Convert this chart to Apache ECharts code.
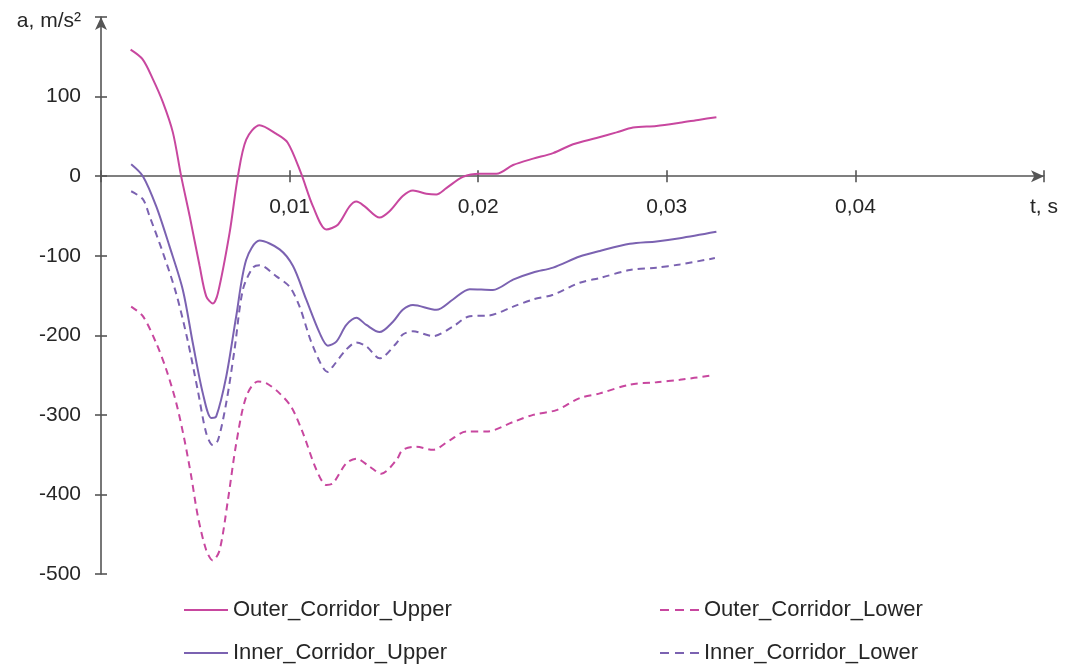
<!DOCTYPE html>
<html>
<head>
<meta charset="utf-8">
<script src="https://cdn.jsdelivr.net/npm/echarts@6/dist/echarts.min.js"></script>
<style>
html,body{margin:0;padding:0;background:#fff;}
#chart{width:1069px;height:671px;}
</style>
</head>
<body>
<div id="chart"></div>
<script>
// ---- data (t in s, a in m/s²) ----
var outerUpperT = [0.00157,0.0022,0.00275,0.00328,0.00381,0.00425,0.0047,0.00523,0.00558,0.00593,0.0062,0.00682,0.00726,0.0077,0.00841,0.0093,0.0099,0.0106,0.01124,0.01195,0.01256,0.01318,0.01354,0.01398,0.01477,0.0153,0.016,0.01654,0.01725,0.01778,0.01831,0.01919,0.02008,0.02097,0.02185,0.02291,0.02397,0.02503,0.02627,0.02733,0.02821,0.02945,0.03069,0.03175,0.03263];
var outerUpperA = [159,147,122,93,55,0,-50,-113,-151,-160,-147,-71,0,46,64,53,42,4,-38,-67,-61,-38,-32,-38,-52,-44,-25,-18,-22,-23,-15,-1,3,3,14,22,29,40,48,55,61,63,67,71,74];

var outerLowerT = [0.0016,0.00222,0.00293,0.00346,0.00399,0.00443,0.00479,0.00514,0.00558,0.00593,0.00629,0.00673,0.00717,0.0077,0.00832,0.00876,0.00947,0.01009,0.01071,0.01142,0.01195,0.0123,0.013,0.01354,0.01424,0.01486,0.01566,0.016,0.01672,0.0176,0.01849,0.01937,0.02044,0.02185,0.02291,0.02415,0.02538,0.02645,0.02804,0.02945,0.03069,0.03246];
var outerLowerA = [-164,-176,-210,-243,-285,-332,-378,-428,-470,-483,-470,-407,-336,-277,-258,-260,-273,-290,-323,-369,-388,-386,-361,-355,-365,-374,-357,-344,-340,-344,-332,-321,-321,-309,-300,-294,-279,-273,-262,-259,-256,-250];

var innerUpperT = [0.0016,0.00222,0.00293,0.00363,0.00434,0.00487,0.0054,0.00585,0.00611,0.00664,0.00717,0.0077,0.00841,0.00947,0.01018,0.01088,0.01159,0.01203,0.01248,0.01301,0.01354,0.01407,0.01477,0.01548,0.016,0.01654,0.01778,0.01866,0.01955,0.02078,0.02185,0.02291,0.02397,0.02538,0.02645,0.02804,0.02945,0.03069,0.03263];
var innerUpperA = [15,0,-38,-88,-143,-210,-273,-304,-302,-252,-176,-105,-81,-92,-113,-155,-197,-213,-208,-187,-178,-187,-196,-183,-168,-162,-168,-155,-142,-143,-130,-121,-115,-101,-94,-85,-82,-78,-70];

var innerLowerT = [0.0016,0.00222,0.00257,0.00328,0.00398,0.00459,0.00513,0.00558,0.00593,0.0062,0.00664,0.00708,0.00752,0.00805,0.00841,0.0093,0.01,0.01053,0.01124,0.01203,0.0123,0.013,0.01354,0.01407,0.01477,0.01566,0.016,0.01654,0.0176,0.01866,0.01955,0.0206,0.02185,0.02291,0.02397,0.02538,0.02645,0.02804,0.02945,0.03069,0.03255];
var innerLowerA = [-19,-29,-50,-96,-147,-206,-269,-323,-338,-332,-285,-218,-143,-115,-112,-126,-139,-164,-214,-246,-239,-218,-209,-214,-229,-210,-199,-195,-201,-189,-176,-175,-164,-155,-149,-134,-128,-118,-115,-111,-103];

var seriesNames = ['Outer_Corridor_Upper','Outer_Corridor_Lower','Inner_Corridor_Upper','Inner_Corridor_Lower'];
var xAxisTitle = 't, s';
var yAxisTitle = 'a, m/s\u00B2';

function pairs(t, a) { return t.map(function (v, i) { return [v, a[i]]; }); }

var MAGENTA = '#C8479F';
var PURPLE = '#7B62B1';
var AXIS = '#555';
var TEXT = '#262626';
var FONT = "'Liberation Sans', Arial, sans-serif";

var X_MIN = 0, X_MAX = 0.05, Y_MIN = -500, Y_MAX = 200;
var GRID = {left: 101, right: 25, top: 17, bottom: 97};
var gridH = 671 - GRID.top - GRID.bottom;
// move the x axis from the grid bottom up to a = 0
var xOffset = -(0 - Y_MIN) / (Y_MAX - Y_MIN) * gridH;

var chart = echarts.init(document.getElementById('chart'), null, {renderer: 'canvas'});

function xAxisBase(inside) {
  return {
    type: 'value', min: X_MIN, max: X_MAX, interval: 0.01,
    position: 'bottom', offset: xOffset,
    axisLine: {show: !inside, onZero: false, symbol: ['none', 'arrow'], symbolSize: [9, 13], lineStyle: {color: AXIS, width: 1.6}},
    axisTick: {show: true, inside: inside, length: 6, lineStyle: {color: AXIS, width: 1.6}},
    axisLabel: inside ? {show: false} : {
      show: true, margin: 21, color: TEXT, fontSize: 21, fontFamily: FONT,
      formatter: function (v) {
        if (Math.abs(v) < 1e-9) return '';
        if (Math.abs(v - 0.05) < 1e-9) return xAxisTitle;
        return v.toFixed(2).replace('.', ',');
      }
    },
    splitLine: {show: false}
  };
}
function yAxisBase(inside) {
  return {
    type: 'value', min: Y_MIN, max: Y_MAX, interval: 100,
    position: 'left', offset: 0,
    axisLine: {show: !inside, onZero: false, symbol: ['none', 'arrow'], symbolSize: [9, 13], lineStyle: {color: AXIS, width: 1.6}},
    axisTick: {show: true, inside: inside, length: 6, lineStyle: {color: AXIS, width: 1.6}},
    axisLabel: inside ? {show: false} : {
      show: true, margin: 20, color: TEXT, fontSize: 21, fontFamily: FONT,
      formatter: function (v) {
        if (v === Y_MAX) return '{t|' + yAxisTitle + '}';
        return String(v);
      },
      rich: {t: {color: TEXT, fontSize: 21, fontFamily: FONT, padding: [8, 0, 0, 0]}}
    },
    splitLine: {show: false}
  };
}

function lineSeries(name, data, color, dashed) {
  return {
    name: name, type: 'line', xAxisIndex: 0, yAxisIndex: 0,
    data: data, smooth: 0.3, symbol: 'none', showSymbol: false,
    lineStyle: {color: color, width: 2, type: dashed ? [7, 5] : 'solid'},
    itemStyle: {color: color},
    emphasis: {disabled: true}, animation: false, z: 3
  };
}

var SOLID_ICON = 'path://M0,0H44V2H0Z';
var DASH_ICON = 'path://M0,0H9V2H0Z M15,0H24V2H15Z M30,0H39V2H30Z';
var legendText = {color: TEXT, fontSize: 22, fontFamily: FONT, lineHeight: 22};

function legendItem(name, icon, left, top, w) {
  return {
    data: [{name: name, icon: icon}], orient: 'horizontal', left: left, top: top,
    itemWidth: w, itemHeight: 2, itemGap: 0, textStyle: legendText, selectedMode: false,
    padding: 0
  };
}

chart.setOption({
  animation: false,
  backgroundColor: '#fff',
  grid: {left: GRID.left, right: GRID.right, top: GRID.top, bottom: GRID.bottom, containLabel: false},
  xAxis: [xAxisBase(false), xAxisBase(true)],
  yAxis: [yAxisBase(false), yAxisBase(true)],
  legend: [
    legendItem(seriesNames[0], SOLID_ICON, 184, 599, 44),
    legendItem(seriesNames[2], SOLID_ICON, 184, 642, 44),
    legendItem(seriesNames[1], DASH_ICON, 660, 599, 39),
    legendItem(seriesNames[3], DASH_ICON, 660, 642, 39)
  ],
  series: [
    lineSeries(seriesNames[0], pairs(outerUpperT, outerUpperA), MAGENTA, false),
    lineSeries(seriesNames[1], pairs(outerLowerT, outerLowerA), MAGENTA, true),
    lineSeries(seriesNames[2], pairs(innerUpperT, innerUpperA), PURPLE, false),
    lineSeries(seriesNames[3], pairs(innerLowerT, innerLowerA), PURPLE, true)
  ]
});
</script>
</body>
</html>
